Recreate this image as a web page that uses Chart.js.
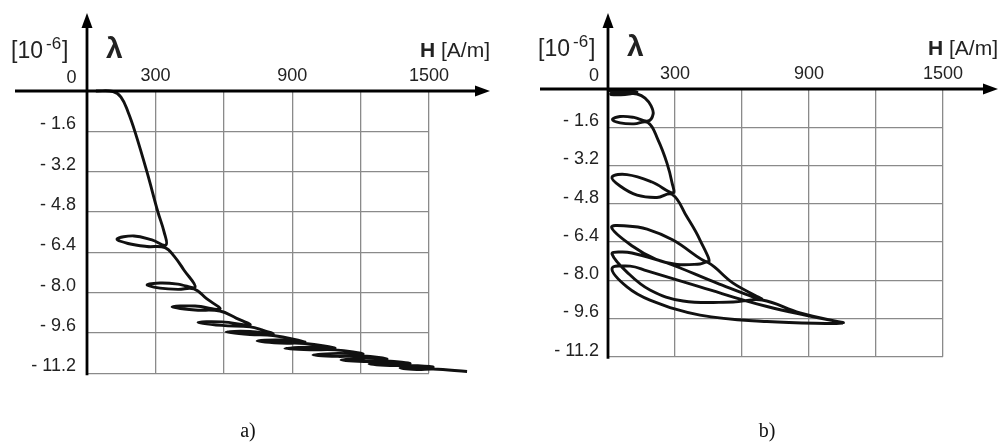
<!DOCTYPE html>
<html>
<head>
<meta charset="utf-8">
<script src="https://cdn.jsdelivr.net/npm/chart.js@4.4.1/dist/chart.umd.min.js"></script>
<style>
  html, body { margin: 0; padding: 0; background: #fff; }
  #wrap { position: relative; width: 1002px; height: 444px; overflow: hidden; }
  canvas { position: absolute; top: 0; }
  #chartA { left: 0; }
  #chartB { left: 500px; }
</style>
</head>
<body>
<div id="wrap">
  <canvas id="chartA" width="500" height="444"></canvas>
  <canvas id="chartB" width="502" height="444"></canvas>
</div>
<script>
// tick values and labels (shared by both panels)
const hTicks = [0, 300, 600, 900, 1200, 1500];
const hTickLabels = ['', '300', '', '900', '', '1500'];
const lambdaTicks = [0, -1.6, -3.2, -4.8, -6.4, -8.0, -9.6, -11.2];
const lambdaTickLabels = ['', '- 1.6', '- 3.2', '- 4.8', '- 6.4', '- 8.0', '- 9.6', '- 11.2'];

// panel a) : H [A/m] and lambda [10^-6] along the measured path
const fieldA = [39, 114, 149, 180, 211, 263, 311, 338,
  346, 285, 206, 132, 180, 263, 342,
  382, 425,
  474, 399, 320, 263, 320, 399, 469,
  526,
  583, 474, 373, 474, 583,
  654,
  715, 592, 487, 592, 715,
  768,
  816, 715, 610, 715, 816,
  956, 846, 746, 846, 956,
  1088, 978, 868, 978, 1088,
  1211, 1101, 991, 1101, 1211,
  1316, 1215, 1114, 1215, 1316,
  1417, 1329, 1237, 1329, 1417,
  1518, 1447, 1373, 1447, 1518,
  1667];
const lambdaA = [0, -0.02, -0.24, -0.83, -1.63, -3.21, -4.80, -5.59,
  -6.11, -5.91, -5.75, -5.87, -6.05, -6.17, -6.21,
  -6.55, -7.10,
  -7.78, -7.66, -7.62, -7.70, -7.82, -7.87, -7.85,
  -8.25,
  -8.65, -8.53, -8.57, -8.69, -8.73,
  -9.01,
  -9.28, -9.16, -9.18, -9.30, -9.36,
  -9.48,
  -9.64, -9.54, -9.56, -9.66, -9.70,
  -9.96, -9.88, -9.92, -10.00, -10.02,
  -10.20, -10.16, -10.22, -10.27, -10.27,
  -10.43, -10.41, -10.47, -10.53, -10.51,
  -10.63, -10.61, -10.67, -10.73, -10.71,
  -10.81, -10.79, -10.83, -10.89, -10.89,
  -10.95, -10.93, -10.99, -11.05, -11.03,
  -11.13];

// panel b)
const fieldB = [4, 76, 130, 76, 13, 18, 76, 130,
  166, 193, 202,
  179, 116, 54, 20, 54, 116, 179,
  224, 264, 287,
  291, 197, 85, 18, 54, 130, 219, 287,
  354, 412,
  448, 291, 175, 85, 16, 112, 215, 309, 412, 448,
  560,
  690, 488, 264, 107, 54, 18, 85, 188, 336, 560, 690,
  860,
  1052, 712, 412, 175, 99, 18, 85, 188, 412, 712, 1008, 1052];
const lambdaB = [-0.06, -0.08, -0.13, -0.23, -0.23, -0.15, -0.17, -0.21,
  -0.38, -0.71, -1.05,
  -1.34, -1.19, -1.15, -1.28, -1.42, -1.46, -1.40,
  -2.13, -3.10, -3.93,
  -4.35, -3.89, -3.58, -3.68, -4.06, -4.44, -4.54, -4.41,
  -5.36, -6.32,
  -7.24, -6.32, -5.86, -5.73, -5.79, -6.59, -7.13, -7.34, -7.32, -7.26,
  -8.12,
  -8.81, -8.12, -7.28, -6.86, -6.82, -6.90, -7.66, -8.41, -8.87, -8.91, -8.83,
  -9.37,
  -9.77, -9.10, -8.28, -7.61, -7.41, -7.51, -8.28, -8.83, -9.46, -9.73, -9.81, -9.79];

const SANS = '"Liberation Sans", Arial, sans-serif';

// arrows, axis captions and panel letter
const decoPlugin = {
  id: 'deco',
  afterDraw(chart, args, o) {
    const ctx = chart.ctx;
    const x0 = chart.scales.x.getPixelForValue(0);
    const y0 = chart.scales.y.getPixelForValue(0);
    const yBot = chart.chartArea.bottom;
    ctx.save();
    ctx.strokeStyle = '#000';
    ctx.fillStyle = '#000';
    ctx.lineWidth = 2.8;
    ctx.lineCap = 'butt';

    // H axis with arrow
    ctx.beginPath();
    ctx.moveTo(o.axisStart, y0);
    ctx.lineTo(o.arrowX - 10, y0);
    ctx.stroke();
    ctx.beginPath();
    ctx.moveTo(o.arrowX, y0);
    ctx.lineTo(o.arrowX - 15, y0 - 5.5);
    ctx.lineTo(o.arrowX - 15, y0 + 5.5);
    ctx.closePath();
    ctx.fill();

    // lambda axis with arrow
    ctx.beginPath();
    ctx.moveTo(x0, yBot + 2);
    ctx.lineTo(x0, o.arrowY + 10);
    ctx.stroke();
    ctx.beginPath();
    ctx.moveTo(x0, o.arrowY);
    ctx.lineTo(x0 - 5.5, o.arrowY + 15);
    ctx.lineTo(x0 + 5.5, o.arrowY + 15);
    ctx.closePath();
    ctx.fill();

    ctx.fillStyle = '#222';
    ctx.textBaseline = 'alphabetic';

    // origin label
    ctx.font = '18px ' + SANS;
    ctx.textAlign = 'right';
    ctx.fillText('0', x0 - o.tickGap, y0 - 8);

    // unit of lambda: [10^-6]
    ctx.textAlign = 'left';
    let tx = x0 - o.unitShift;
    const base = y0 - 33;
    ctx.font = '23px ' + SANS;
    ctx.fillText('[10', tx, base);
    tx += ctx.measureText('[10').width + 3;
    ctx.font = '17px ' + SANS;
    ctx.fillText('-6', tx, base - 9);
    tx += ctx.measureText('-6').width + 1;
    ctx.font = '23px ' + SANS;
    ctx.fillText(']', tx, base);

    // lambda symbol
    ctx.font = 'bold 30px ' + SANS;
    ctx.fillText('\u03bb', x0 + 19, base);

    // H [A/m]
    ctx.font = '21px ' + SANS;
    const unit = ' [A/m]';
    const uw = ctx.measureText(unit).width;
    ctx.fillText(unit, o.arrowX - uw, y0 - 34);
    ctx.font = 'bold 21px ' + SANS;
    ctx.textAlign = 'right';
    ctx.fillText('H', o.arrowX - uw, y0 - 34);

    // panel letter
    ctx.fillStyle = '#111';
    ctx.font = '20px "Liberation Serif", "Times New Roman", serif';
    ctx.textAlign = 'center';
    ctx.fillText(o.letter, o.letterX, 437);
    ctx.restore();
  }
};

function makePanel(id, fields, lambdas, box) {
  const pts = fields.map((h, i) => ({ x: h, y: lambdas[i] }));
  return new Chart(document.getElementById(id), {
    type: 'line',
    data: {
      datasets: [{
        data: pts,
        borderColor: '#111',
        borderWidth: 2.9,
        pointRadius: 0,
        tension: 0.4,
        fill: false,
        clip: false
      }]
    },
    options: {
      responsive: false,
      animation: false,
      events: [],
      elements: { line: { capBezierPoints: false } },
      layout: { padding: { left: 0, top: 0, right: box.padRight, bottom: box.padBottom } },
      scales: {
        x: {
          type: 'linear',
          position: 'top',
          min: 0,
          max: 1500,
          afterBuildTicks: s => { s.ticks = hTicks.map(v => ({ value: v })); },
          afterFit: s => { s.height = box.top; },
          grid: { color: '#8a8a8a', lineWidth: 1.3, drawTicks: false },
          border: { display: false },
          ticks: {
            autoSkip: false,
            maxRotation: 0,
            padding: 4,
            color: '#222',
            font: { family: SANS, size: 18 },
            callback: (v, i) => hTickLabels[i]
          }
        },
        y: {
          type: 'linear',
          min: -11.2,
          max: 0,
          afterBuildTicks: s => { s.ticks = lambdaTicks.map(v => ({ value: v })); },
          afterFit: s => { s.width = box.left; },
          grid: { color: '#8a8a8a', lineWidth: 1.3, drawTicks: false },
          border: { display: false },
          ticks: {
            autoSkip: false,
            padding: box.tickGap,
            labelOffset: box.labelOffset,
            color: '#222',
            font: { family: SANS, size: 18 },
            callback: (v, i) => lambdaTickLabels[i]
          }
        }
      },
      plugins: {
        legend: { display: false },
        tooltip: { enabled: false },
        deco: box.deco
      }
    },
    plugins: [decoPlugin]
  });
}

makePanel('chartA', fieldA, lambdaA, {
  left: 87, top: 91, padRight: 71, padBottom: 70.7, tickGap: 11, labelOffset: -7,
  deco: { axisStart: 15, arrowX: 490, arrowY: 13, tickGap: 10.5, unitShift: 76, letter: 'a)', letterX: 248 }
});
makePanel('chartB', fieldB, lambdaB, {
  left: 108, top: 89, padRight: 59, padBottom: 87.3, tickGap: 9, labelOffset: -6,
  deco: { axisStart: 40, arrowX: 498, arrowY: 13, tickGap: 9, unitShift: 70, letter: 'b)', letterX: 267 }
});
</script>
</body>
</html>
